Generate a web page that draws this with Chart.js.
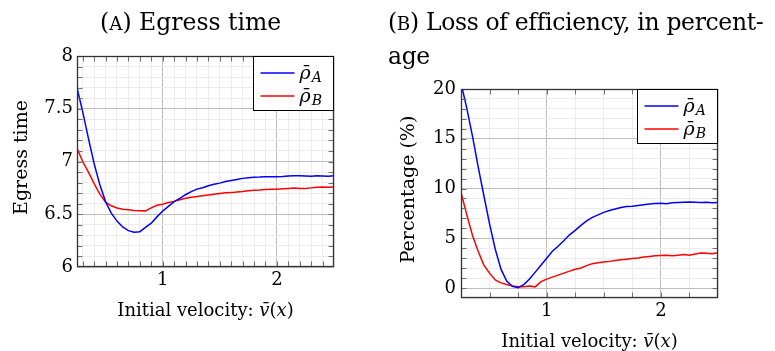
<!DOCTYPE html>
<html><head><meta charset="utf-8">
<script src="https://cdn.jsdelivr.net/npm/chart.js@4.4.1/dist/chart.umd.min.js"></script>
<style>
html,body{margin:0;padding:0;background:#fff;width:775px;height:351px;overflow:hidden;}
.wrap{position:absolute;top:0;height:351px;}
#wa{left:0;width:385px;}
#wb{left:385px;width:390px;}
.title{position:absolute;font-family:"DejaVu Serif",serif;font-size:23.5px;line-height:32px;color:#000;white-space:nowrap;}
.sc{font-size:0.78em;}
</style></head><body>
<div id="wa" class="wrap"><canvas id="ca"></canvas></div>
<div id="wb" class="wrap"><canvas id="cb"></canvas></div>
<div class="title" style="left:100px;top:6px;">(<span class="sc">A</span>) Egress time</div>
<div class="title" style="left:388px;top:6px;letter-spacing:-0.35px;">(<span class="sc">B</span>) Loss of efficiency, in percent-<br>age</div>
<script>
// ---------- data ----------
const velocity = [0.25,0.30,0.35,0.40,0.45,0.50,0.55,0.60,0.65,0.70,0.75,0.80,0.85,0.90,0.95,
  1.00,1.05,1.10,1.15,1.20,1.25,1.30,1.35,1.40,1.45,1.50,1.55,1.60,1.65,1.70,1.75,1.80,1.85,1.90,1.95,
  2.00,2.05,2.10,2.15,2.20,2.25,2.30,2.35,2.40,2.45,2.50];

const egressA = [7.70,7.47,7.22,6.98,6.78,6.62,6.51,6.435,6.38,6.345,6.33,6.335,6.375,6.415,6.475,
  6.53,6.575,6.62,6.65,6.685,6.715,6.738,6.752,6.77,6.785,6.795,6.81,6.82,6.83,6.84,6.847,6.85,6.852,6.856,6.855,
  6.856,6.858,6.862,6.866,6.864,6.863,6.861,6.864,6.862,6.861,6.865];
const egressB = [7.125,7.00,6.90,6.79,6.69,6.615,6.58,6.56,6.548,6.542,6.536,6.534,6.532,6.56,6.585,
  6.595,6.612,6.622,6.638,6.652,6.662,6.668,6.676,6.683,6.69,6.696,6.703,6.705,6.712,6.716,6.722,6.728,6.73,6.734,6.736,
  6.738,6.742,6.745,6.748,6.744,6.745,6.75,6.755,6.758,6.755,6.758];

const lossA = [20.6,18.1,15.3,12.2,9.3,6.45,3.9,1.9,0.7,0.18,0.03,0.35,0.9,1.6,2.3,
  3.0,3.7,4.2,4.75,5.35,5.8,6.3,6.75,7.1,7.35,7.6,7.8,7.95,8.1,8.2,8.22,8.3,8.38,8.44,8.5,
  8.52,8.48,8.58,8.6,8.63,8.65,8.62,8.6,8.62,8.58,8.6];
const lossB = [9.6,7.4,5.3,3.7,2.3,1.5,0.82,0.52,0.35,0.2,0.13,0.12,0.2,0.12,0.65,
  0.9,1.1,1.3,1.5,1.7,1.88,2.02,2.25,2.45,2.55,2.62,2.68,2.76,2.84,2.9,2.97,3.03,3.12,3.18,3.24,
  3.28,3.3,3.24,3.3,3.36,3.3,3.42,3.52,3.5,3.45,3.56];

const seriesLabels = ['ρ̄_A', 'ρ̄_B'];
const xTickLabels = [1, 2];
const egressTickLabels = [6, 6.5, 7, 7.5, 8];
const lossTickLabels = [0, 5, 10, 15, 20];
const xTitleParts = [['Initial velocity: ', false], ['v̄', true], ['(', false], ['x', true], [')', false]];
const yTitleA = 'Egress time';
const yTitleB = 'Percentage (%)';

// ---------- helpers ----------
const FONT = '"DejaVu Serif", serif';
Chart.defaults.font.family = FONT;
Chart.defaults.font.size = 18;
Chart.defaults.color = '#000';

function stepValues(min, max, step) {
  const out = [];
  const k0 = Math.ceil(min / step - 1e-9), k1 = Math.floor(max / step + 1e-9);
  for (let k = k0; k <= k1; k++) out.push(Math.round(k * step * 1e6) / 1e6);
  if (out[0] > min + 1e-9) out.unshift(min);
  if (out[out.length - 1] < max - 1e-9) out.push(max);
  return out;
}
const isIn = (arr, v) => arr.some(m => Math.abs(m - v) < 1e-6);

function points(ys) { return velocity.map((x, i) => ({x, y: ys[i]})); }

const texPlugin = {
  id: 'tex',
  afterDatasetsDraw(chart, args, o) {
    const {ctx, chartArea: a} = chart;
    const L = Math.round(a.left) + 0.5, R = Math.round(a.right) - 0.5;
    const T = Math.round(a.top) + 0.5, B = Math.round(a.bottom) - 0.5;
    ctx.save();
    // inner tick marks
    ctx.strokeStyle = '#707070';
    ctx.lineWidth = 1;
    ctx.beginPath();
    const tl = 5;
    chart.scales.x.ticks.forEach(t => {
      const px = Math.round(chart.scales.x.getPixelForValue(t.value)) + 0.5;
      if (px <= L + 1 || px >= R - 1) return;
      ctx.moveTo(px, T); ctx.lineTo(px, T + tl);
      ctx.moveTo(px, B); ctx.lineTo(px, B - tl);
    });
    chart.scales.y.ticks.forEach(t => {
      const py = Math.round(chart.scales.y.getPixelForValue(t.value)) + 0.5;
      if (py <= T + 1 || py >= B - 1) return;
      ctx.moveTo(L, py); ctx.lineTo(L + tl, py);
      ctx.moveTo(R, py); ctx.lineTo(R - tl, py);
    });
    ctx.stroke();
    // border
    ctx.strokeStyle = '#333';
    ctx.lineWidth = 1.3;
    ctx.strokeRect(L, T, R - L, B - T);

    // legend
    const w = 80, h = 54;
    const x0 = R - w, y0 = T;
    ctx.fillStyle = '#fff';
    ctx.fillRect(x0, y0, w, h);
    ctx.strokeStyle = '#000';
    ctx.lineWidth = 1;
    ctx.strokeRect(x0, y0, w, h);
    chart.data.datasets.forEach((ds, i) => {
      const y = y0 + 16.5 + i * 23;
      ctx.strokeStyle = ds.borderColor;
      ctx.lineWidth = 1.5;
      ctx.beginPath(); ctx.moveTo(x0 + 7, y); ctx.lineTo(x0 + 41, y); ctx.stroke();
      const [base, sub] = ds.label.split('_');
      ctx.fillStyle = '#000';
      ctx.textBaseline = 'alphabetic';
      ctx.textAlign = 'left';
      ctx.font = 'italic 19px ' + FONT;
      ctx.fillText(base, x0 + 46, y + 6);
      const bw = ctx.measureText(base).width;
      ctx.font = 'italic 14px ' + FONT;
      ctx.fillText(sub, x0 + 46 + bw + 1, y + 9);
    });

    // x title
    const fontFor = p => (p[1] ? 'italic ' : '') + '18px ' + FONT;
    let total = 0;
    xTitleParts.forEach(p => { ctx.font = fontFor(p); total += ctx.measureText(p[0]).width; });
    let x = (a.left + a.right) / 2 - total / 2;
    const by = a.bottom + 48.5;
    ctx.textAlign = 'left';
    xTitleParts.forEach(p => { ctx.font = fontFor(p); ctx.fillText(p[0], x, by); x += ctx.measureText(p[0]).width; });

    // y title
    ctx.translate(a.left - o.yGap, (a.top + a.bottom) / 2 - 4);
    ctx.rotate(-Math.PI / 2);
    ctx.font = '19px ' + FONT;
    ctx.textAlign = 'center';
    ctx.fillText(o.yTitle, 0, 0);
    ctx.restore();
  }
};

function makeChart(id, cfg) {
  const majorGrid = '#bdbdbd', minorGrid = '#ececec';
  return new Chart(document.getElementById(id), {
    type: 'line',
    data: {
      datasets: [
        {label: seriesLabels[0], data: points(cfg.a), borderColor: '#0000ff', borderWidth: 1.5, pointRadius: 0, tension: 0, fill: false},
        {label: seriesLabels[1], data: points(cfg.b), borderColor: '#ff0000', borderWidth: 1.5, pointRadius: 0, tension: 0, fill: false}
      ]
    },
    options: {
      responsive: true, maintainAspectRatio: false, animation: false, devicePixelRatio: 1,
      layout: {padding: {top: cfg.padTop, right: cfg.padRight, left: 0, bottom: 0}, autoPadding: false},
      plugins: {legend: {display: false}, tooltip: {enabled: false}, title: {display: false},
        tex: {yTitle: cfg.yTitle, yGap: cfg.yGap}},
      scales: {
        x: {
          type: 'linear', min: 0.25, max: 2.5,
          afterBuildTicks: s => { s.ticks = stepValues(0.25, 2.5, cfg.xStep).map(v => ({value: v})); },
          afterFit: s => { s.height = cfg.xHeight; },
          ticks: {autoSkip: false, maxRotation: 0, padding: cfg.xPad,
            callback: v => isIn(xTickLabels, v) ? String(Math.round(v)) : ''},
          grid: {drawTicks: false, lineWidth: 1,
            color: c => isIn(xTickLabels, c.tick.value) ? majorGrid : minorGrid},
          border: {display: false}
        },
        y: {
          type: 'linear', min: cfg.ymin, max: cfg.ymax,
          afterBuildTicks: s => { s.ticks = stepValues(cfg.ymin, cfg.ymax, cfg.yStep).map(v => ({value: v})); },
          afterFit: s => { s.width = cfg.yWidth; },
          ticks: {autoSkip: false, padding: cfg.yPad,
            callback: v => isIn(cfg.yLabels, v) ? String(v) : ''},
          grid: {drawTicks: false, lineWidth: 1,
            color: c => isIn(cfg.yLabels, c.tick.value) ? majorGrid : minorGrid},
          border: {display: false}
        }
      }
    },
    plugins: [texPlugin]
  });
}

makeChart('ca', {a: egressA, b: egressB, ymin: 6, ymax: 8, yStep: 0.1, xStep: 0.1,
  yLabels: egressTickLabels, yTitle: yTitleA, yGap: 50,
  padTop: 56, padRight: 51, yWidth: 77, xHeight: 84, xPad: 3, yPad: 4});
makeChart('cb', {a: lossA, b: lossB, ymin: -1, ymax: 20, yStep: 1, xStep: 0.25,
  yLabels: lossTickLabels, yTitle: yTitleB, yGap: 47,
  padTop: 89, padRight: 57, yWidth: 76, xHeight: 53, xPad: 3, yPad: 5});
</script>
</body></html>
